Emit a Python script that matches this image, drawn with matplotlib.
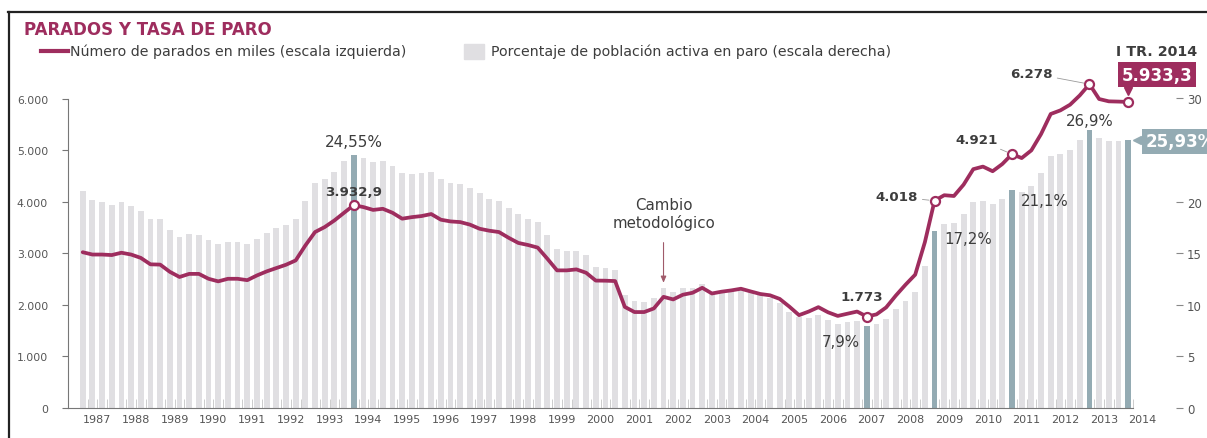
import matplotlib
matplotlib.use('Agg')
import matplotlib.pyplot as plt
from matplotlib.lines import Line2D
from matplotlib.patches import Rectangle
from matplotlib.transforms import offset_copy, blended_transform_factory

plt.rcParams['font.family'] = ['DejaVu Sans']

# ---------------- data ----------------
years = list(range(1987, 2015))
quarters = [f"{y}T{q}" for y in range(1987, 2014) for q in range(1, 5)] + ["2014T1"]

tasa = [
    21.0, 20.2, 20.0, 19.7,   # 1987
    20.0, 19.6, 19.1, 18.3,   # 1988
    18.3, 17.3, 16.6, 16.9,   # 1989
    16.8, 16.3, 15.9, 16.1,   # 1990
    16.1, 15.9, 16.4, 17.0,   # 1991
    17.4, 17.7, 18.3, 20.1,   # 1992
    21.8, 22.2, 22.9, 23.9,   # 1993
    24.55, 24.25, 23.8, 23.9, # 1994
    23.5, 22.8, 22.7, 22.8,   # 1995
    22.9, 22.2, 21.8, 21.7,   # 1996
    21.3, 20.8, 20.3, 20.1,   # 1997
    19.4, 18.8, 18.3, 18.0,   # 1998
    16.8, 15.4, 15.2, 15.2,   # 1999
    14.8, 13.7, 13.6, 13.4,   # 2000
    11.0, 10.4, 10.3, 10.7,   # 2001
    11.6, 11.2, 11.6, 11.6,   # 2002
    12.0, 11.2, 11.3, 11.4,   # 2003
    11.6, 11.3, 11.1, 10.7,   # 2004
    10.2, 9.3, 8.8, 8.7,      # 2005
    9.0, 8.5, 8.1, 8.3,       # 2006
    8.4, 7.9, 8.1, 8.6,       # 2007
    9.6, 10.4, 11.2, 13.8,    # 2008
    17.2, 17.8, 17.9, 18.8,   # 2009
    20.0, 20.1, 19.8, 20.3,   # 2010
    21.1, 20.9, 21.5, 22.8,   # 2011
    24.4, 24.6, 25.0, 26.0,   # 2012
    26.9, 26.2, 25.9, 25.9,   # 2013
    25.93,                    # 2014
]

parados = [
    3020, 2975, 2975, 2965,   # 1987
    3010, 2975, 2910, 2785,   # 1988
    2780, 2640, 2540, 2600,   # 1989
    2600, 2505, 2455, 2505,   # 1990
    2505, 2478, 2570, 2648,   # 1991
    2713, 2777, 2861, 3151,   # 1992
    3411, 3508, 3636, 3785,   # 1993
    3932.9, 3895, 3840, 3862, # 1994
    3785, 3670, 3700, 3721,   # 1995
    3760, 3650, 3617, 3604,   # 1996
    3555, 3475, 3437, 3411,   # 1997
    3300, 3200, 3160, 3110,   # 1998
    2894, 2668, 2668, 2687,   # 1999
    2622, 2470, 2468, 2461,   # 2000
    1960, 1860, 1860, 1930,   # 2001
    2155, 2105, 2196, 2234,   # 2002
    2330, 2220, 2255, 2280,   # 2003
    2312, 2260, 2210, 2185,   # 2004
    2115, 1965, 1800, 1870,   # 2005
    1955, 1855, 1785, 1828,   # 2006
    1870, 1773, 1815, 1950,   # 2007
    2180, 2390, 2585, 3215,   # 2008
    4018, 4125, 4110, 4330,   # 2009
    4630, 4680, 4590, 4730,   # 2010
    4921, 4845, 4995, 5310,   # 2011
    5700, 5770, 5880, 6060,   # 2012
    6278, 5990, 5945, 5940,   # 2013
    5933.3,                   # 2014
]

highlight = ["1994T1", "2007T2", "2009T1", "2011T1", "2013T1", "2014T1"]
left_ticks = [0, 1000, 2000, 3000, 4000, 5000, 6000]
left_tick_labels = ["0", "1.000", "2.000", "3.000", "4.000", "5.000", "6.000"]
right_ticks = [0, 5, 10, 15, 20, 25, 30]
# "25" sits under the 25,93% box in the original, so it is not shown
right_tick_labels = ["0", "5", "10", "15", "20", "", "30"]

# ---------------- style ----------------
W, H = 1207, 439
MAROON = '#9e2d5e'
BAR = '#e0dfe2'
HIL = '#94abb3'
TXT = '#3d3d3d'
TICK = '#555555'

def px(v):  # pixels -> points
    return v * 0.72

fig = plt.figure(figsize=(W / 100, H / 100), dpi=100)
ax = fig.add_axes([68 / W, 30 / H, (1133 - 68) / W, (409.3 - 99.8) / H])
ax2 = ax.twinx()
ax.set_zorder(ax2.get_zorder() + 1)
ax.patch.set_visible(False)

x = list(range(len(quarters)))
colors = [HIL if q in highlight else BAR for q in quarters]
ax2.bar(x, tasa, width=0.6, color=colors, zorder=1)

ax.plot(x, parados, color=MAROON, lw=2.7, solid_joinstyle='round',
        solid_capstyle='round', clip_on=False, zorder=3)
mk = [quarters.index(q) for q in highlight]
ax.plot(mk, [parados[i] for i in mk], ls='none', marker='o', ms=6.5,
        mfc='white', mec=MAROON, mew=1.6, clip_on=False, zorder=4)

ax.set_xlim(-1.52, 108.5)
ax.set_ylim(0, 6000)
ax2.set_ylim(0, 30)

# spines
for s in ['top', 'right']:
    ax.spines[s].set_visible(False)
for s in ['top', 'left', 'bottom']:
    ax2.spines[s].set_visible(False)
ax2.spines['right'].set_position(('outward', px(43)))
ax2.spines['right'].set_visible(False)
for s in ['left', 'bottom']:
    ax.spines[s].set_color('#777777')
    ax.spines[s].set_linewidth(0.8)

# left ticks
ax.set_yticks(left_ticks)
ax.set_yticklabels(left_tick_labels)
ax.tick_params(axis='y', length=px(6), width=0.8, color='#777777', pad=px(14),
               labelsize=7.8, labelcolor=TICK)

# right ticks
ax2.set_yticks(right_ticks)
ax2.set_yticklabels(right_tick_labels)
ax2.tick_params(axis='y', length=px(7), width=0.8, color='#888888', pad=px(4),
                labelsize=8.5, labelcolor=TICK)

# x ticks: year boundaries and quarter minors
year_bounds = [-0.5 + 4 * k for k in range(len(years))]
ax.set_xticks(year_bounds)
ax.set_xticklabels([])
ax.set_xticks([-0.5 + i for i in range(len(quarters) + 1) if i % 4 != 0], minor=True)
ax.tick_params(axis='x', which='major', direction='inout', length=px(16), width=0.8,
               color='#777777')
ax.tick_params(axis='x', which='minor', direction='in', length=px(9), width=0.6,
               color='#c4c4c4')
ax2.set_xticks([])

tr = blended_transform_factory(ax.transData, fig.transFigure)
for k, yv in enumerate(years):
    ax.text(1.5 + 4 * k, 1 - 420 / H, str(yv), transform=tr, ha='center', va='center',
            fontsize=8, color=TICK)

# ---------------- annotations ----------------
def idx(q):
    return quarters.index(q)

def ann_pct(q, text, dx, dy, ha, size=10.8):
    i = idx(q)
    ax2.annotate(text, (i, tasa[i]), xytext=(px(dx), px(dy)), textcoords='offset points',
                 ha=ha, va='center', fontsize=size, color=TXT, zorder=6)

def ann_num(q, text, dx, dy, ha, leader=False):
    i = idx(q)
    kw = {}
    if leader:
        kw['arrowprops'] = dict(arrowstyle='-', color='#9a9a9a', lw=0.6,
                                shrinkA=1.5, shrinkB=4)
    ax.annotate(text, (i, parados[i]), xytext=(px(dx), px(dy)), textcoords='offset points',
                ha=ha, va='center', fontsize=9.6, fontweight='bold', color=TXT,
                zorder=6, annotation_clip=False, **kw)

ann_pct("1994T1", "24,55%", 0, 13, 'center', size=11)
ann_num("1994T1", "3.932,9", 0, 14, 'center')
ann_num("2007T2", "1.773", -5, 20, 'center')
ann_pct("2007T2", "7,9%", -7, -15, 'right')
ann_num("2009T1", "4.018", -17, 4, 'right', leader=True)
ann_pct("2009T1", "17,2%", 10, -8, 'left')
ann_num("2011T1", "4.921", -14, 15, 'right', leader=True)
ann_pct("2011T1", "21,1%", 9, -10, 'left')
ann_num("2013T1", "6.278", -37, 11, 'right', leader=True)
ann_pct("2013T1", "26,9%", 0, 10, 'center')

# Cambio metodologico
i02 = idx("2002T1")
ax2.annotate("Cambio\nmetodológico", (i02, tasa[i02]), xytext=(0, px(75)),
             textcoords='offset points', ha='center', va='center', fontsize=10.8,
             color=TXT, linespacing=1.2, zorder=6,
             arrowprops=dict(arrowstyle='-|>,head_length=0.35,head_width=0.15',
                             color='#a05a6a', lw=0.8, shrinkA=7, shrinkB=4))

# last quarter labels
il = idx("2014T1")
ax.annotate("I TR. 2014", (il, parados[il]), xytext=(px(28), px(50.7)),
            textcoords='offset points', ha='center', va='center', fontsize=10.3,
            fontweight='bold', color=TXT, annotation_clip=False)
ax.annotate("5.933,3", (il, parados[il]), xytext=(px(29), px(27.4)),
            textcoords='offset points', ha='center', va='center', fontsize=12,
            fontweight='bold', color='white', annotation_clip=False,
            bbox=dict(boxstyle='square,pad=0.2', fc=MAROON, ec='none'))
ax.plot([il], [parados[il]], marker='v', ms=6, color=MAROON, ls='none', clip_on=False,
        transform=offset_copy(ax.transData, fig=fig, x=0, y=11, units='dots'))
ax.annotate("25,93%", (il, tasa[il]), xycoords=ax2.transData, xytext=(px(17), px(-1)),
            textcoords='offset points', ha='left', va='center', fontsize=12,
            fontweight='bold', color='white', annotation_clip=False, zorder=7,
            bbox=dict(boxstyle='square,pad=0.2', fc=HIL, ec='none'))
ax.plot([il], [tasa[il]], marker='<', ms=6, color=HIL, ls='none', clip_on=False,
        transform=offset_copy(ax2.transData, fig=fig, x=8.5, y=0, units='dots'))

# ---------------- header / legend / frame ----------------
def fx(v):
    return v / W

def fy(v):
    return 1 - v / H

fig.add_artist(Line2D([fx(8), fx(W)], [fy(13), fy(13)], color='#222222', lw=1.6))
fig.add_artist(Line2D([fx(9), fx(9)], [fy(13), fy(H)], color='#222222', lw=1.6))
fig.text(fx(24), fy(30), "PARADOS Y TASA DE PARO", fontsize=12, fontweight='bold',
         color=MAROON, ha='left', va='center')
fig.add_artist(Line2D([fx(41), fx(68)], [fy(52), fy(52)], color=MAROON, lw=3.0))
fig.text(fx(70), fy(52), "Número de parados en miles (escala izquierda)", fontsize=10.2,
         color=TXT, ha='left', va='center')
fig.add_artist(Rectangle((fx(464), fy(60)), fx(20), 15 / H, color=BAR,
                         transform=fig.transFigure))
fig.text(fx(491), fy(52), "Porcentaje de población activa en paro (escala derecha)",
         fontsize=10.2, color=TXT, ha='left', va='center')

fig.savefig('out.png', dpi=100)
